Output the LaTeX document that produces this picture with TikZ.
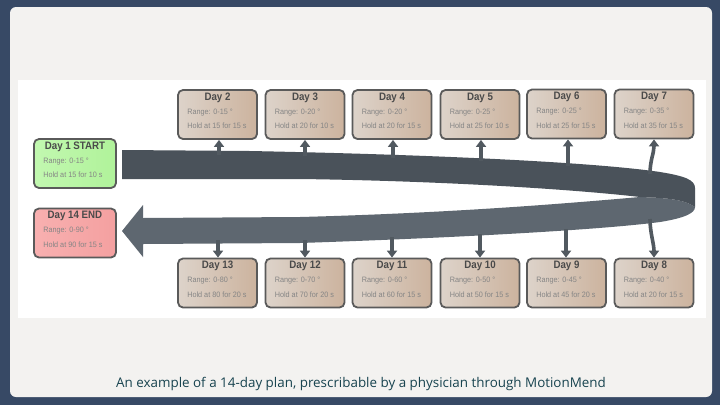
\documentclass[tikz,border=0pt]{standalone}
\usepackage{fontspec}
\setmainfont{Liberation Sans}
\newfontfamily\titlefont[FakeStretch=0.9]{Liberation Sans}
\newfontfamily\detailfont[FakeStretch=0.93]{Liberation Sans}
\newfontfamily\capfont{Open Sans}
\usetikzlibrary{arrows.meta,calc}
\definecolor{navy}{HTML}{374965}
\definecolor{panel}{HTML}{F3F2F0}
\definecolor{banddark}{HTML}{4A525A}
\definecolor{bandlight}{HTML}{5E6770}
\definecolor{conncol}{HTML}{515960}
\definecolor{boxborder}{HTML}{5A5A5A}
\definecolor{tanL}{HTML}{DDD3CA}
\definecolor{tanR}{HTML}{CCB39E}
\definecolor{greenL}{HTML}{C2F8B0}
\definecolor{greenR}{HTML}{B0F29A}
\definecolor{pinkL}{HTML}{F8B0B0}
\definecolor{pinkR}{HTML}{F4A0A0}
\definecolor{titlecol}{HTML}{4A4A4A}
\definecolor{detailcol}{HTML}{858585}
\definecolor{capcol}{HTML}{17434F}
\tikzset{
  daybox/.style={rectangle, rounded corners=5pt, draw=boxborder, line width=1.8pt,
    minimum width=79pt, minimum height=49pt, inner sep=0pt, left color=tanL, right color=tanR},
  startbox/.style={left color=greenL, right color=greenR, minimum width=82pt},
  endbox/.style={left color=pinkL, right color=pinkR, minimum width=82pt},
  daytitle/.style={inner sep=0pt, text=titlecol, font=\titlefont\bfseries\fontsize{10.8}{12}\selectfont},
  daytext/.style={inner sep=0pt, anchor=west, text=detailcol, font=\detailfont\fontsize{7.8}{9}\selectfont},
  conn/.style={draw=conncol, line width=3.6pt, -{Triangle[width=10pt,length=7pt]}},
  capstyle/.style={inner sep=0pt, text=capcol, font=\capfont\fontsize{13.4}{15}\selectfont}
}
\newcommand\mkday[7]{%
  \node[daybox,#4] (#1) at (#2,#3) {};
  \node[daytitle] (#1t) at ($(#1.north)+(0,8.5)$) {#5};
  \node[daytext] (#1r) at ($(#1.north west)+(10,23)$) {#6};
  \node[daytext] (#1h) at ($(#1.north west)+(10,37)$) {#7};
}
\begin{document}
\begin{tikzpicture}[x=1pt,y=-1pt]
\useasboundingbox (0,0) rectangle (720,405);
\fill[navy] (0,0) rectangle (720,405);
\fill[panel, rounded corners=6pt] (10,7) rectangle (712,397);
\fill[white] (18,80) rectangle (706,318);

% lower (returning) band with arrow head
\fill[bandlight] (640,197) .. controls (560,204) and (450,213) .. (300,217) -- (143,218)
  -- (143,205) -- (122,231) -- (143,257) -- (143,244) -- (300,243)
  .. controls (450,238) and (600,230) .. (660,222)
  .. controls (685,218) and (695,213) .. (695,207)
  .. controls (685,200) and (670,198) .. (640,197) -- cycle;
% upper (outgoing) band
\fill[banddark] (122,150) -- (250,151) .. controls (450,155) and (600,163) .. (660,172)
  .. controls (685,176) and (695,180) .. (695,188) -- (695,207)
  .. controls (685,200) and (670,198) .. (640,197)
  .. controls (580,190) and (450,181) .. (300,179) -- (122,179) -- cycle;

% boxes
\mkday{d1}{75}{163.5}{startbox}{Day 1 START}{Range: 0-15 °}{Hold at 15 for 10 s}
\mkday{d14}{75}{233}{endbox}{Day 14 END}{Range: 0-90 °}{Hold at 90 for 15 s}
\mkday{d2}{217.5}{114.5}{}{Day 2}{Range: 0-15 °}{Hold at 15 for 15 s}
\mkday{d3}{305}{114.5}{}{Day 3}{Range: 0-20 °}{Hold at 20 for 10 s}
\mkday{d4}{392}{114.5}{}{Day 4}{Range: 0-20 °}{Hold at 20 for 15 s}
\mkday{d5}{480}{114.5}{}{Day 5}{Range: 0-25 °}{Hold at 25 for 10 s}
\mkday{d6}{566.5}{114}{}{Day 6}{Range: 0-25 °}{Hold at 25 for 15 s}
\mkday{d7}{654}{114}{}{Day 7}{Range: 0-35 °}{Hold at 35 for 15 s}
\mkday{d13}{217.5}{283}{}{Day 13}{Range: 0-80 °}{Hold at 80 for 20 s}
\mkday{d12}{305}{283}{}{Day 12}{Range: 0-70 °}{Hold at 70 for 20 s}
\mkday{d11}{392}{283}{}{Day 11}{Range: 0-60 °}{Hold at 60 for 15 s}
\mkday{d10}{480}{283}{}{Day 10}{Range: 0-50 °}{Hold at 50 for 15 s}
\mkday{d9}{566.5}{283}{}{Day 9}{Range: 0-45 °}{Hold at 45 for 20 s}
\mkday{d8}{654}{283}{}{Day 8}{Range: 0-40 °}{Hold at 20 for 15 s}

% connectors up
\coordinate (a2) at (219,155);
\coordinate (a3) at (305,156);
\coordinate (a4) at (393,158);
\coordinate (a5) at (481,161);
\coordinate (a6) at (568,166);
\coordinate (a7) at (650,174);
\draw[conn] (a2) -- (a2 |- d2.south);
\draw[conn] (a3) -- (a3 |- d3.south);
\draw[conn] (a4) -- (a4 |- d4.south);
\draw[conn] (a5) -- (a5 |- d5.south);
\draw[conn] (a6) -- (a6 |- d6.south);
\draw[conn] (a7) .. controls ($(a7)+(0,-14)$) and ($(d7.south)+(0,14)$) .. (d7.south);
% connectors down
\coordinate (b13) at (218,240);
\coordinate (b12) at (305,240);
\coordinate (b11) at (392,237);
\coordinate (b10) at (480,234);
\coordinate (b9) at (566,229);
\coordinate (b8) at (650,219);
\draw[conn] (b13) -- (b13 |- d13.north);
\draw[conn] (b12) -- (b12 |- d12.north);
\draw[conn] (b11) -- (b11 |- d11.north);
\draw[conn] (b10) -- (b10 |- d10.north);
\draw[conn] (b9) -- (b9 |- d9.north);
\draw[conn] (b8) .. controls ($(b8)+(0,14)$) and ($(d8.north)+(0,-14)$) .. (d8.north);

\node[capstyle] (cap) at (361,384) {An example of a 14-day plan, prescribable by a physician through MotionMend};
\end{tikzpicture}
\end{document}
